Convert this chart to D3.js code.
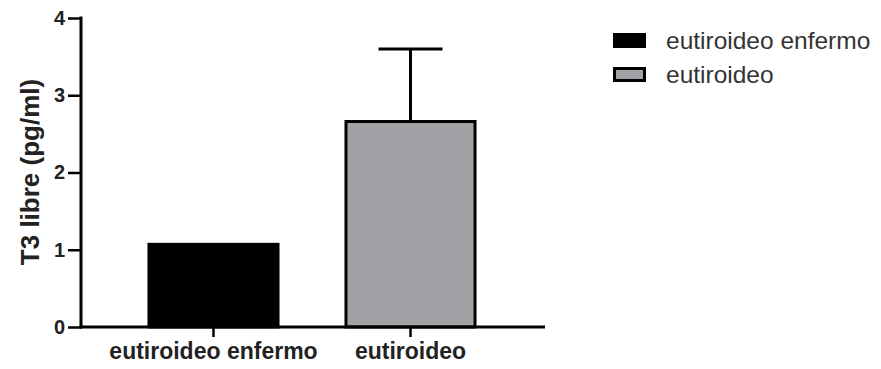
<!DOCTYPE html>
<html>
<head>
  <script src="https://d3js.org/d3.v7.min.js"></script>
  <style>
    body { margin: 0; background: #fff; }
    text { font-family: "Liberation Sans", Arial, sans-serif; }
  </style>
</head>
<body>
  <div id="chart"></div>
  <script>
    const categories = ["eutiroideo enfermo", "eutiroideo"];
    const means = [1.07, 2.66];
    const errors = [0, 0.94];
    const colors = ["#000000", "#a2a2a6"];
    const yTicks = [0, 1, 2, 3, 4];

    const svg = d3.select("#chart").append("svg")
      .attr("width", 881).attr("height", 369);

    const y = d3.scaleLinear().domain([0, 4]).range([327, 18]);
    const x = d3.scaleBand().domain(categories).range([81, 543]).padding(0.345);

    // bars
    svg.selectAll("rect.bar").data(categories).join("rect")
      .attr("class", "bar")
      .attr("x", d => x(d))
      .attr("y", (d, i) => y(means[i]))
      .attr("width", x.bandwidth())
      .attr("height", (d, i) => y(0) - y(means[i]))
      .attr("fill", (d, i) => colors[i])
      .attr("stroke", "#000")
      .attr("stroke-width", 3);

    // error bars (upper only)
    categories.forEach((c, i) => {
      if (!errors[i]) return;
      const cx = x(c) + x.bandwidth() / 2;
      svg.append("line")
        .attr("x1", cx).attr("x2", cx)
        .attr("y1", y(means[i])).attr("y2", y(means[i] + errors[i]))
        .attr("stroke", "#000").attr("stroke-width", 3);
      svg.append("line")
        .attr("x1", cx - 32).attr("x2", cx + 32)
        .attr("y1", y(means[i] + errors[i])).attr("y2", y(means[i] + errors[i]))
        .attr("stroke", "#000").attr("stroke-width", 3);
    });

    // y axis
    const yAxis = svg.append("g").attr("transform", "translate(81,0)")
      .call(d3.axisLeft(y).tickValues(yTicks).tickSize(13).tickPadding(3).tickFormat(d3.format("d")));
    yAxis.select(".domain").attr("stroke-width", 3).attr("d", "M0,16.5V328.5");
    yAxis.selectAll(".tick line").attr("stroke-width", 2.5);
    yAxis.selectAll("text").attr("font-size", 20).attr("font-weight", "bold").attr("fill", "#222");

    // x axis
    const xAxis = svg.append("g").attr("transform", "translate(0,327)")
      .call(d3.axisBottom(x).tickSize(10).tickPadding(6));
    xAxis.select(".domain").attr("stroke-width", 3).attr("d", "M79.5,0H545");
    xAxis.selectAll(".tick line").attr("stroke-width", 2.5);
    xAxis.selectAll("text").attr("font-size", 23).attr("font-weight", "bold").attr("fill", "#222");

    // y title
    svg.append("text")
      .attr("transform", "translate(39,172) rotate(-90)")
      .attr("text-anchor", "middle")
      .attr("font-size", 26).attr("font-weight", "bold").attr("fill", "#222")
      .text("T3 libre (pg/ml)");

    // legend
    const legend = svg.append("g").attr("transform", "translate(613,33)");
    categories.forEach((c, i) => {
      const g = legend.append("g").attr("transform", `translate(0,${i * 34})`);
      g.append("rect").attr("x", 1.5).attr("y", 1.5).attr("width", 30).attr("height", 12)
        .attr("fill", colors[i]).attr("stroke", "#000").attr("stroke-width", 3);
      g.append("text").attr("x", 53).attr("y", 16)
        .attr("font-size", 24.5).attr("fill", "#333").text(c);
    });
  </script>
</body>
</html>
